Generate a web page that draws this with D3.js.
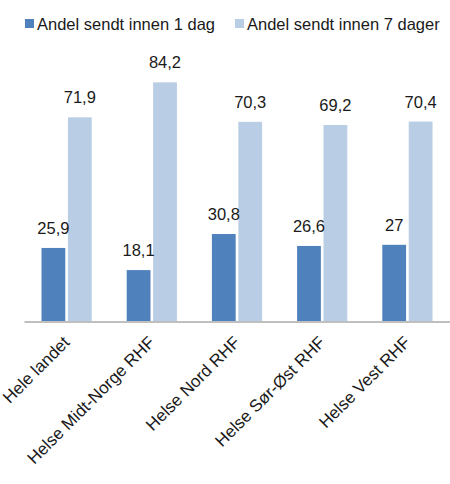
<!DOCTYPE html>
<html>
<head>
<meta charset="utf-8">
<script src="https://cdn.jsdelivr.net/npm/d3@7"></script>
<style>
  body { margin: 0; background: #fff; }
  text { font-family: "Liberation Sans", Arial, sans-serif; fill: #1a1a1a; }
</style>
</head>
<body>
<div id="container"></div>
<script>
/* CONSTANTS AND GLOBALS */
const width = 450,
  height = 484,
  margin = { top: 37.5, bottom: 162.5, left: 24, right: 0 };

// data
const categories = ["Hele landet", "Helse Midt-Norge RHF", "Helse Nord RHF", "Helse Sør-Øst RHF", "Helse Vest RHF"];
const seriesNames = ["Andel sendt innen 1 dag", "Andel sendt innen 7 dager"];
const innen1dag = [25.9, 18.1, 30.8, 26.6, 27];
const innen7dager = [71.9, 84.2, 70.3, 69.2, 70.4];
const colors = ["#4F81BD", "#B9CDE5"];

const data = categories.map((c, i) => ({
  cat: c,
  values: [
    { key: seriesNames[0], value: innen1dag[i] },
    { key: seriesNames[1], value: innen7dager[i] }
  ]
}));

const svg = d3.select("#container")
  .append("svg")
  .attr("width", width)
  .attr("height", height);

/* SCALES */
const xScale = d3.scaleBand()
  .domain(categories)
  .range([margin.left, width - margin.right])
  .paddingInner(0)
  .paddingOuter(0);

const xInner = d3.scaleBand()
  .domain(seriesNames)
  .range([17.5, xScale.bandwidth() - 17.5])
  .paddingInner(0.1);

const yScale = d3.scaleLinear()
  .domain([0, 100])
  .range([height - margin.bottom, margin.top]);

const colorScale = d3.scaleOrdinal()
  .domain(seriesNames)
  .range(colors);

/* BARS */
const groups = svg.selectAll("g.group")
  .data(data)
  .join("g")
  .attr("class", "group")
  .attr("transform", d => `translate(${xScale(d.cat)},0)`);

groups.selectAll("rect")
  .data(d => d.values)
  .join("rect")
  .attr("x", d => xInner(d.key))
  .attr("y", d => yScale(d.value))
  .attr("width", xInner.bandwidth())
  .attr("height", d => yScale(0) - yScale(d.value))
  .attr("fill", d => colorScale(d.key));

groups.selectAll("text.val")
  .data(d => d.values)
  .join("text")
  .attr("class", "val")
  .attr("x", d => xInner(d.key) + xInner.bandwidth() / 2)
  .attr("y", d => yScale(d.value) - 14)
  .attr("text-anchor", "middle")
  .attr("font-size", 16.5)
  .text(d => String(d.value).replace(".", ","));

/* AXIS */
const xAxis = d3.axisBottom(xScale).tickSize(0).tickPadding(0);
const xAxisGroup = svg.append("g")
  .attr("transform", `translate(0,${yScale(0)})`)
  .call(xAxis);

xAxisGroup.select(".domain")
  .attr("stroke", "#BFBFBF")
  .attr("stroke-width", 2);

xAxisGroup.selectAll(".tick text")
  .attr("font-size", 17)
  .attr("font-family", "Liberation Sans, Arial, sans-serif")
  .attr("fill", "#1a1a1a")
  .attr("text-anchor", "end")
  .attr("dy", null)
  .attr("y", 0)
  .attr("transform", "translate(4,22) rotate(-45)");

/* LEGEND */
const legendX = [25, 235];
const legend = svg.selectAll("g.legend")
  .data(seriesNames)
  .join("g")
  .attr("class", "legend")
  .attr("transform", (d, i) => `translate(${legendX[i]},19)`);

legend.append("rect")
  .attr("width", 9)
  .attr("height", 9)
  .attr("fill", d => colorScale(d));

legend.append("text")
  .attr("x", 12)
  .attr("y", 10.5)
  .attr("font-size", 16.5)
  .text(d => d);
</script>
</body>
</html>
